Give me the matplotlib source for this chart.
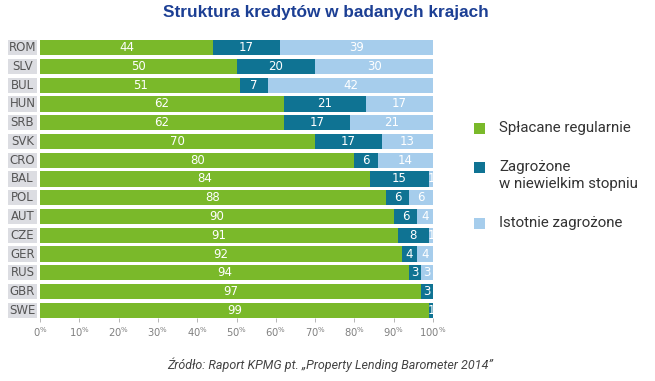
import numpy as np
import matplotlib
matplotlib.use('Agg')
import matplotlib.pyplot as plt
from matplotlib.patches import Rectangle

countries = ['ROM', 'SLV', 'BUL', 'HUN', 'SRB', 'SVK', 'CRO', 'BAL',
             'POL', 'AUT', 'CZE', 'GER', 'RUS', 'GBR', 'SWE']
regular = [44, 50, 51, 62, 62, 70, 80, 84, 88, 90, 91, 92, 94, 97, 99]
slight_risk = [17, 20, 7, 21, 17, 17, 6, 15, 6, 6, 8, 4, 3, 3, 1]
high_risk = [39, 30, 42, 17, 21, 13, 14, 1, 6, 4, 1, 4, 3, 0, 0]
series_names = ['Spłacane regularnie', 'Zagrożone\nw niewielkim stopniu',
                'Istotnie zagrożone']
xticks = [0, 10, 20, 30, 40, 50, 60, 70, 80, 90, 100]

colors = ['#7ab92a', '#0f7393', '#a6cdec']
narrow = 'Liberation Sans Narrow'

fig = plt.figure(figsize=(6.55, 3.81), dpi=100)
W, H = 655, 381

def px_axes(x0, y0, x1, y1):
    return fig.add_axes([x0 / W, 1 - y1 / H, (x1 - x0) / W, (y1 - y0) / H])

ax = px_axes(40, 40, 433, 318)
y = np.arange(len(countries))
bh = 0.82
left = np.zeros(len(countries))
for vals, col in zip([regular, slight_risk, high_risk], colors):
    vals = np.array(vals)
    ax.barh(y, vals, left=left, height=bh, color=col, linewidth=0)
    for yi, l, v in zip(y, left, vals):
        if v > 0:
            ax.text(l + v / 2, yi, str(v), ha='center', va='center',
                    color='white', fontsize=8.5, family=narrow)
    left += vals

ax.set_xlim(0, 100)
ax.set_ylim(len(countries) - 1 + bh / 2, -bh / 2)
ax.set_yticks([])
ax.set_xticks(xticks)
ax.set_xticklabels([r'$\mathregular{%d^{\%%}}$' % t for t in xticks],
                   family=narrow, fontsize=7.2, color='#808080')
ax.tick_params(axis='x', length=3, width=0.6, color='#aaaaaa', pad=2)
for s in ax.spines.values():
    s.set_visible(False)

# country label boxes
lax = px_axes(8, 40, 37, 318)
lax.barh(y, [1] * len(countries), height=bh, color='#dcdde2', linewidth=0)
for yi, c in zip(y, countries):
    lax.text(0.5, yi, c, ha='center', va='center', fontsize=8.5,
             family=narrow, color='#555555')
lax.set_xlim(0, 1)
lax.set_ylim(ax.get_ylim())
lax.axis('off')

# legend, drawn by hand so the square sits on the first line of a label
leg_y = [128, 167, 223]
for name, col, ly in zip(series_names, colors, leg_y):
    fig.add_artist(Rectangle((474 / W, 1 - (ly + 5.5) / H), 11 / W, 11 / H,
                             transform=fig.transFigure, facecolor=col,
                             edgecolor='none'))
    fig.text(499 / W, 1 - (ly - 7) / H, name, ha='left', va='top',
             fontsize=10.8, family='Roboto', color='#333333',
             linespacing=1.25)

fig.text(326 / W, 1 - 13 / H, 'Struktura kredytów w badanych krajach',
         ha='center', va='center', fontsize=12.4, fontweight='bold',
         family='Liberation Sans', color='#1c3f94')
fig.text(330 / W, 1 - 365 / H,
         'Źródło: Raport KPMG pt. „Property Lending Barometer 2014”',
         ha='center', va='center', fontsize=9, style='italic',
         family='Roboto', color='#444444')

fig.savefig('out.png', dpi=100, facecolor='white')
